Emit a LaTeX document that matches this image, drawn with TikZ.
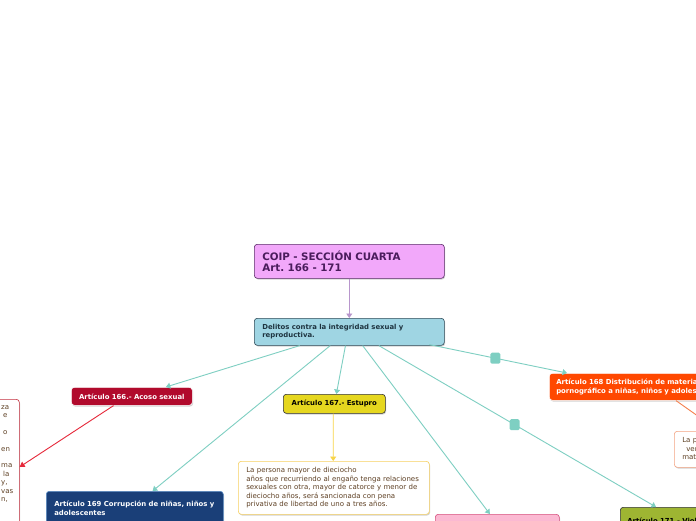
\documentclass[tikz,border=0pt]{standalone}
\usepackage{fontspec}
\setmainfont{DejaVu Sans}
\usetikzlibrary{arrows.meta,shadows,calc}
\frenchspacing
\definecolor{titlefill}{HTML}{F2A8FA}
\definecolor{titledraw}{HTML}{5A2A68}
\definecolor{titletext}{HTML}{4A1C5C}
\definecolor{mainfill}{HTML}{9FD5E3}
\definecolor{maindraw}{HTML}{2E4A58}
\definecolor{maintext}{HTML}{1E3440}
\definecolor{tealline}{HTML}{7ECFC2}
\definecolor{purpline}{HTML}{B896CC}
\definecolor{redfill}{HTML}{B10A2C}
\definecolor{redline}{HTML}{E6283A}
\definecolor{redbox}{HTML}{C4303F}
\definecolor{yelfill}{HTML}{E6D71F}
\definecolor{yelline}{HTML}{F8D448}
\definecolor{yelbox}{HTML}{F6D060}
\definecolor{browntext}{HTML}{5E4024}
\definecolor{bluefill}{HTML}{1A3F78}
\definecolor{bluedraw}{HTML}{5A8CC4}
\definecolor{orafill}{HTML}{FF4800}
\definecolor{oraline}{HTML}{F5804E}
\definecolor{orabox}{HTML}{F3A482}
\definecolor{greenfill}{HTML}{9EB532}
\definecolor{pinkfill}{HTML}{FBB9D2}
\definecolor{pinkdraw}{HTML}{D6507E}
\begin{document}
\begin{tikzpicture}[x=1pt,y=-1pt,
  box/.style={draw, rounded corners=3pt, anchor=north west, inner xsep=8pt, inner ysep=0pt, line width=0.6pt},
  shadowed/.style={drop shadow={shadow xshift=0.8pt, shadow yshift=-1.2pt, fill=black!35, opacity=0.5}},
  smallbold/.style={font=\bfseries\fontsize{6.9}{8.8}\selectfont},
  smalltext/.style={font=\fontsize{7}{8.6}\selectfont},
  link/.style={draw=tealline, line width=0.9pt, -{Triangle[length=4.5pt,width=6pt]}},
  knob/.style={fill=tealline, rounded corners=1.5pt, minimum width=10pt, minimum height=11pt, inner sep=0pt}
]
\useasboundingbox (0,0) rectangle (696,520);
\clip (0,0) rectangle (696,520);
\fill[white] (0,0) rectangle (696,520);

% nodes
\node[box, shadowed, fill=titlefill, draw=titledraw, text=titletext, minimum width=190pt, minimum height=34pt, text width=174pt, align=left, font=\bfseries\fontsize{10.3}{11}\selectfont] (title) at (254,244) {\mbox{COIP - SECCIÓN CUARTA}\\Art. 166 - 171};

\node[box, shadowed, fill=mainfill, draw=maindraw, text=maintext, minimum width=190pt, minimum height=27pt, text width=174pt, align=left, font=\bfseries\fontsize{6.9}{8.4}\selectfont] (main) at (254,318) {\mbox{Delitos contra la integridad sexual y}\\reproductiva.};

\node[box, shadowed, fill=redfill, draw=white, text=white, minimum width=121pt, minimum height=18pt, text width=117pt, inner xsep=2pt, align=center, smallbold] (art166) at (71,387) {\mbox{Artículo 166.- Acoso sexual}};

\node[box, shadowed, fill=white, draw=redbox, minimum width=180pt, minimum height=140pt] (box166) at (-161,399) {};
\node[anchor=north west, inner sep=0pt, align=left, text=browntext, font=\fontsize{7}{8.4}\selectfont] (txt166) at (1,405) {za\\\hspace*{2pt}e\\[8.4pt]\hspace*{2pt}o\\[8.4pt]en\\[8.4pt]ma\\\hspace*{2pt}la\\y,\\vas\\n,};

\node[box, shadowed, fill=yelfill, draw=black!80, text=black, minimum width=102pt, minimum height=19pt, text width=98pt, inner xsep=2pt, align=center, smallbold] (art167) at (283,394) {\mbox{Artículo 167.- Estupro}};

\node[box, shadowed, fill=white, draw=yelbox, text=browntext, minimum width=191pt, minimum height=53pt, text width=175pt, align=left, smalltext] (txt167) at (238,461) {La persona mayor de dieciocho\\\mbox{años que recurriendo al engaño tenga relaciones}\\\mbox{sexuales con otra, mayor de catorce y menor de}\\dieciocho años, será sancionada con pena\\privativa de libertad de uno a tres años.};

\node[box, shadowed, fill=bluefill, draw=bluedraw, text=white, minimum width=177pt, minimum height=34pt, text width=161pt, align=left, smallbold] (art169) at (46,491) {\mbox{Artículo 169 Corrupción de niñas, niños y}\\adolescentes\\[8pt]};

\node[box, shadowed, fill=pinkfill, draw=pinkdraw, minimum width=124pt, minimum height=30pt] (pink) at (435,514) {};

\node[box, shadowed, fill=orafill, draw=white, text=white, minimum width=214pt, minimum height=27pt, text width=200pt, align=left, inner xsep=7pt, smallbold] (art168) at (549,373) {\mbox{Artículo 168 Distribución de material}\\\mbox{pornográfico a niñas, niños y adolescentes}};

\node[box, shadowed, fill=white, draw=orabox, text=browntext, minimum width=116pt, minimum height=36pt, text width=100pt, align=left, smalltext] (txt168) at (674,431) {\mbox{La persona que difunda,}\\\mbox{\hspace*{4pt}venda o entregue a}\\\mbox{material pornográfico}};

\node[box, shadowed, fill=greenfill, draw=black!80, text=black, minimum width=130pt, minimum height=26pt, text width=116pt, align=left, inner xsep=7pt, smallbold] (art171) at (620,507) {\mbox{Artículo 171.- Violación}\\[8pt]};

% connectors
\draw[draw=purpline, line width=0.9pt, -{Triangle[length=4.5pt,width=6pt]}] (title.south) -- (main.north);

\draw[link] ($(main.south west)!0.24!(main.south east)$) -- ($(art166.north west)!0.78!(art166.north east)$);
\draw[link] ($(main.south west)!0.48!(main.south east)$) -- ($(art167.north west)!0.52!(art167.north east)$);
\draw[link] ($(main.south west)!0.40!(main.south east)$) -- ($(art169.north west)!0.60!(art169.north east)$);
\draw[link] ($(main.south west)!0.57!(main.south east)$) -- ($(pink.north west)!0.44!(pink.north east)$);
\draw[link] ($(main.south west)!0.655!(main.south east)$) -- node[knob, pos=0.49] (knob171) {} ($(art171.north west)+(36,0)$);
\draw[link] ($(main.south west)!0.92!(main.south east)+(0,-1)$) -- node[knob, pos=0.48] (knob168) {} ($(art168.north west)+(18,0)$);

\draw[draw=redline, line width=0.9pt, -{Triangle[length=5pt,width=6pt]}] ($(art166.south west)!0.35!(art166.south east)$) -- ($(box166.north east)+(0,68)$);

\draw[draw=yelline, line width=0.9pt, -{Triangle[length=4.5pt,width=6pt]}] ($(art167.south west)!0.49!(art167.south east)$) -- ($(txt167.north west)!0.497!(txt167.north east)$);

\draw[draw=oraline, line width=0.9pt, -{Triangle[length=4.5pt,width=6pt]}] ($(art168.south west)+(127,0)$) -- ($(txt168.north west)+(45,0)$);
\end{tikzpicture}
\end{document}
